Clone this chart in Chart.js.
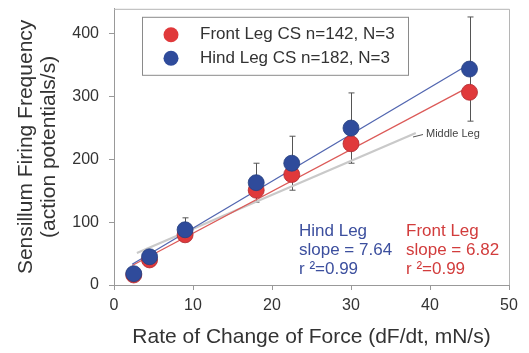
<!DOCTYPE html>
<html>
<head>
<meta charset="utf-8">
<script src="https://cdn.jsdelivr.net/npm/chart.js@4/dist/chart.umd.min.js"></script>
<style>
  html, body { margin: 0; padding: 0; background: #fff; }
  canvas { display: block; }
</style>
</head>
<body>
<canvas id="c" width="529" height="353"></canvas>
<script>
// values
const rateX      = [2.5, 4.5, 9, 18, 22.5, 30, 45];
const frontFreq  = [16, 40, 80, 151, 176, 225, 307];
const hindFreq   = [18, 45, 88, 163, 194, 250, 344];
const hindSD     = [5, 6, 19, 31, 43, 56, 83];

const fitX        = [2.3, 45];
const hindFitY    = [33, 352];
const frontFitY   = [31, 316];
const middleFitX  = [2.9, 38.2];
const middleFitY  = [51, 242];

const xTicks = [0, 10, 20, 30, 40, 50];
const yTicks = [0, 100, 200, 300, 400];

const FONT = 'Liberation Sans, Arial, sans-serif';
const RED = '#e0393b';
const BLUE = '#2f4b9b';

const pts = (xs, ys) => xs.map((x, i) => ({ x, y: ys[i] }));

/** frame on top/right, error bars, legend box, notes */
const extras = {
  id: 'extras',
  beforeDatasetsDraw(chart) {
    const { ctx, chartArea: a, scales: { x, y } } = chart;
    ctx.save();
    ctx.strokeStyle = '#b5b5b5';
    ctx.lineWidth = 1;
    ctx.beginPath();
    ctx.moveTo(a.left, a.top + 0.5);
    ctx.lineTo(a.right + 0.5, a.top + 0.5);
    ctx.lineTo(a.right + 0.5, a.bottom);
    ctx.stroke();

    // error bars (hind leg SD)
    ctx.strokeStyle = '#555';
    rateX.forEach((v, i) => {
      const px = Math.round(x.getPixelForValue(v)) + 0.5;
      const hi = y.getPixelForValue(hindFreq[i] + hindSD[i]);
      const lo = y.getPixelForValue(hindFreq[i] - hindSD[i]);
      ctx.beginPath();
      ctx.moveTo(px, hi); ctx.lineTo(px, lo);
      ctx.moveTo(px - 3, hi); ctx.lineTo(px + 3, hi);
      ctx.moveTo(px - 3, lo); ctx.lineTo(px + 3, lo);
      ctx.stroke();
    });
    ctx.restore();
  },
  afterDraw(chart) {
    const { ctx, chartArea: a } = chart;
    ctx.save();
    // legend
    const lx = a.left + 28, ly = a.top + 8;
    ctx.fillStyle = '#fff';
    ctx.fillRect(lx, ly, 266, 58);
    ctx.strokeStyle = '#8a8a8a';
    ctx.lineWidth = 1;
    ctx.strokeRect(lx + 0.5, ly + 0.5, 266, 58);
    ctx.font = '17px ' + FONT;
    ctx.textBaseline = 'middle';
    [[RED, 0], [BLUE, 1]].forEach(([col, di]) => {
      const cy = ly + 18 + di * 23.5;
      ctx.fillStyle = col;
      ctx.beginPath();
      ctx.arc(lx + 29, cy, 7.5, 0, Math.PI * 2);
      ctx.fill();
      ctx.fillStyle = '#333';
      ctx.fillText(chart.data.datasets[di].label, lx + 58, cy);
    });

    // slope notes
    ctx.font = '17px ' + FONT;
    const notes = [
      ['#3c4f9e', 299, ['Hind Leg', 'slope = 7.64', 'r \u00b2=0.99']],
      ['#d23c3c', 406, ['Front Leg', 'slope = 6.82', 'r \u00b2=0.99']],
    ];
    notes.forEach(([col, nx, lines]) => {
      ctx.fillStyle = col;
      lines.forEach((t, i) => ctx.fillText(t, nx, 231 + i * 19));
    });

    // middle leg label
    ctx.strokeStyle = '#555';
    ctx.beginPath();
    ctx.moveTo(413, 137); ctx.lineTo(423, 134.5);
    ctx.stroke();
    ctx.fillStyle = '#444';
    ctx.font = '11px ' + FONT;
    ctx.fillText('Middle Leg', 426, 134);
    ctx.restore();
  },
};

new Chart(document.getElementById('c'), {
  type: 'scatter',
  data: {
    datasets: [
      {
        label: 'Front Leg CS n=142, N=3',
        data: pts(rateX, frontFreq),
        backgroundColor: RED,
        borderColor: '#b02a30',
        borderWidth: 0.8,
        pointRadius: 8,
        order: 1,
      },
      {
        label: 'Hind Leg CS n=182, N=3',
        data: pts(rateX, hindFreq),
        backgroundColor: BLUE,
        borderColor: '#27407f',
        borderWidth: 0.8,
        pointRadius: 8,
        order: 0,
      },
      {
        type: 'line',
        label: 'Hind fit',
        data: pts(fitX, hindFitY),
        borderColor: '#5266b0',
        borderWidth: 1.3,
        pointRadius: 0,
        order: 3,
      },
      {
        type: 'line',
        label: 'Front fit',
        data: pts(fitX, frontFitY),
        borderColor: '#dc5a58',
        borderWidth: 1.3,
        pointRadius: 0,
        order: 4,
      },
      {
        type: 'line',
        label: 'Middle fit',
        data: pts(middleFitX, middleFitY),
        borderColor: '#c9c9c9',
        borderWidth: 2.2,
        pointRadius: 0,
        order: 5,
      },
    ],
  },
  options: {
    responsive: false,
    animation: false,
    devicePixelRatio: 1,
    layout: { padding: { top: 7, right: 20, left: 0, bottom: 0 } },
    plugins: { legend: { display: false }, tooltip: { enabled: false } },
    scales: {
      x: {
        type: 'linear',
        min: 0,
        max: 50,
        afterBuildTicks: s => { s.ticks = xTicks.map(value => ({ value })); },
        afterFit: s => { s.height = 68; s.paddingLeft = 0; s.paddingRight = 0; },
        ticks: { font: { family: FONT, size: 16 }, color: '#333', padding: 6 },
        grid: { drawOnChartArea: false, tickLength: 5, tickColor: '#999' },
        border: { color: '#999' },
        title: {
          display: true,
          text: 'Rate of Change of Force (dF/dt, mN/s)',
          font: { family: FONT, size: 21 },
          color: '#333',
          padding: { top: 0, bottom: 3 },
        },
      },
      y: {
        min: 0,
        max: 440,
        afterBuildTicks: s => { s.ticks = yTicks.map(value => ({ value })); },
        afterFit: s => { s.width = 114; s.paddingTop = 0; s.paddingBottom = 0; },
        ticks: { font: { family: FONT, size: 16 }, color: '#333', padding: 10 },
        grid: { drawOnChartArea: false, tickLength: 5, tickColor: '#999' },
        border: { color: '#999' },
        title: {
          display: true,
          text: ['Sensillum Firing Frequency', '(action potentials/s)'],
          font: { family: FONT, size: 21, lineHeight: 1.1 },
          color: '#333',
          padding: { top: 15, bottom: 0 },
        },
      },
    },
  },
  plugins: [extras],
});
</script>
</body>
</html>
